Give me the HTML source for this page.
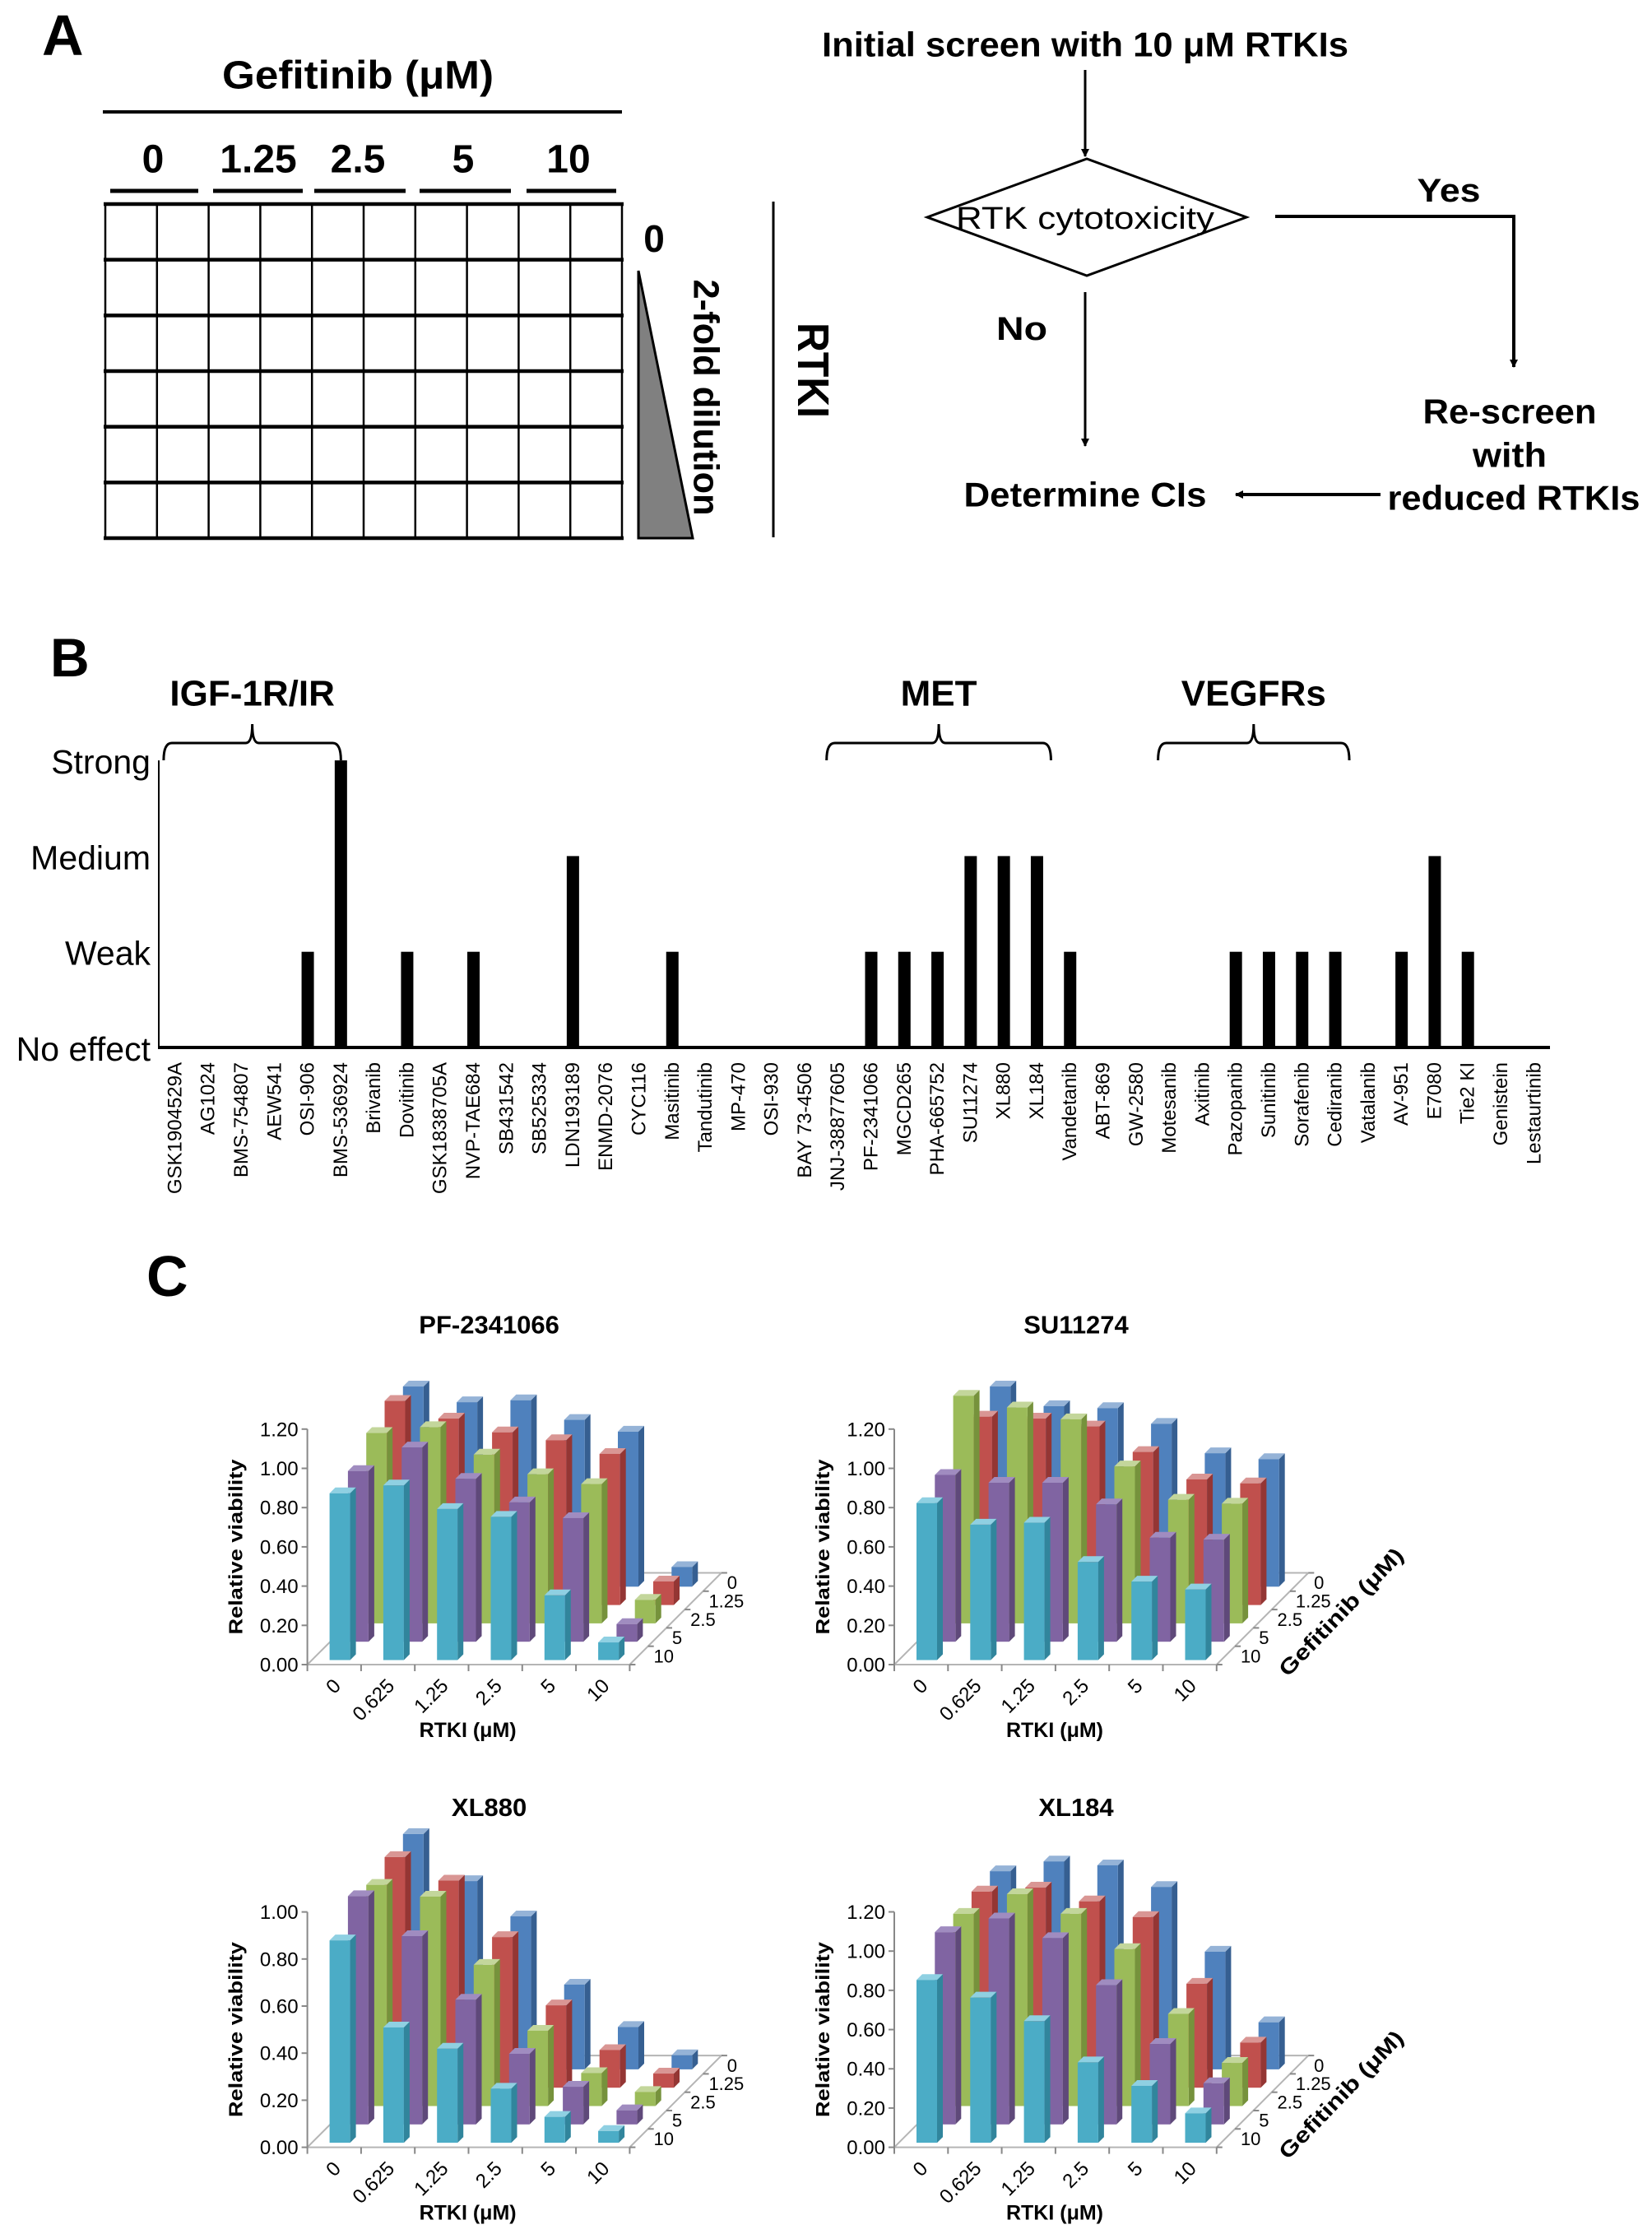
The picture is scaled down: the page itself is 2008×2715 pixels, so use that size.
<!DOCTYPE html>
<html><head><meta charset="utf-8"><title>RTKI screen figure</title>
<style>
html,body{margin:0;padding:0;background:#fff;}
svg{display:block;font-family:"Liberation Sans",Arial,sans-serif;}
</style></head>
<body>
<svg id="fig" width="2008" height="2715" viewBox="0 0 2008 2715" xmlns="http://www.w3.org/2000/svg">
<defs>
<marker id="ah" markerWidth="10" markerHeight="10" refX="9" refY="5" orient="auto" markerUnits="userSpaceOnUse" viewBox="0 0 10 10">
<path d="M0,0 L10,5 L0,10 Z" fill="#000"/>
</marker>
</defs>
<!-- Panel A -->
<g>
<text x="51" y="67" font-size="70" font-weight="bold">A</text>
<text x="435" y="92" font-size="48" font-weight="bold" text-anchor="middle" dominant-baseline="central" textLength="330" lengthAdjust="spacingAndGlyphs">Gefitinib (μM)</text>
<line x1="125" y1="136" x2="756" y2="136" stroke="#000" stroke-width="4"/>
<g font-size="48" font-weight="bold" text-anchor="middle" dominant-baseline="central">
<text x="186" y="194">0</text>
<text x="314" y="194">1.25</text>
<text x="435" y="194">2.5</text>
<text x="563" y="194">5</text>
<text x="691" y="194">10</text>
</g>
<g stroke="#000" stroke-width="5">
<line x1="134" y1="232" x2="241" y2="232"/><line x1="259" y1="232" x2="368" y2="232"/><line x1="382" y1="232" x2="493" y2="232"/><line x1="510" y1="232" x2="621" y2="232"/><line x1="640" y1="232" x2="749" y2="232"/>
</g>
<g id="plate"></g>
<text x="795" y="290" font-size="46" font-weight="bold" text-anchor="middle" dominant-baseline="central">0</text>
<polygon points="776,329 776,654 842,654" fill="#808080" stroke="#000" stroke-width="3"/>
<text transform="translate(858,483) rotate(90)" font-size="44" font-weight="bold" text-anchor="middle" dominant-baseline="central" textLength="287" lengthAdjust="spacingAndGlyphs">2-fold dilution</text>
<line x1="940" y1="245" x2="940" y2="653" stroke="#000" stroke-width="3"/>
<text transform="translate(988,450) rotate(90)" font-size="54" font-weight="bold" text-anchor="middle" dominant-baseline="central" textLength="116" lengthAdjust="spacingAndGlyphs">RTKI</text>
</g>
<!-- Flowchart -->
<g font-weight="bold">
<text x="1319" y="54" font-size="42" text-anchor="middle" dominant-baseline="central" textLength="640" lengthAdjust="spacingAndGlyphs">Initial screen with 10 μM RTKIs</text>
<line x1="1319" y1="85" x2="1319" y2="190" stroke="#000" stroke-width="3" marker-end="url(#ah)"/>
<polygon points="1127,264 1321,193 1515,264 1321,335" fill="none" stroke="#000" stroke-width="3"/>
<text x="1319" y="266" font-size="38" font-weight="normal" text-anchor="middle" dominant-baseline="central" textLength="314" lengthAdjust="spacingAndGlyphs">RTK cytotoxicity</text>
<polyline points="1550,263 1840,263 1840,446" fill="none" stroke="#000" stroke-width="4" marker-end="url(#ah)"/>
<text x="1761" y="232" font-size="40" text-anchor="middle" dominant-baseline="central" textLength="77" lengthAdjust="spacingAndGlyphs">Yes</text>
<line x1="1319" y1="355" x2="1319" y2="542" stroke="#000" stroke-width="3" marker-end="url(#ah)"/>
<text x="1242" y="400" font-size="40" text-anchor="middle" dominant-baseline="central" textLength="62" lengthAdjust="spacingAndGlyphs">No</text>
<text x="1319" y="601" font-size="42" text-anchor="middle" dominant-baseline="central" textLength="295" lengthAdjust="spacingAndGlyphs">Determine CIs</text>
<line x1="1678" y1="601" x2="1502" y2="601" stroke="#000" stroke-width="4" marker-end="url(#ah)"/>
<text x="1835" y="500" font-size="42" text-anchor="middle" dominant-baseline="central" textLength="211" lengthAdjust="spacingAndGlyphs">Re-screen</text>
<text x="1835" y="553" font-size="42" text-anchor="middle" dominant-baseline="central" textLength="90" lengthAdjust="spacingAndGlyphs">with</text>
<text x="1840" y="605" font-size="42" text-anchor="middle" dominant-baseline="central" textLength="307" lengthAdjust="spacingAndGlyphs">reduced RTKIs</text>
</g>
<!-- Panel B -->
<g id="panelB">
<text x="61" y="822" font-size="66" font-weight="bold">B</text>
</g>
<!-- Panel C -->
<g id="panelC">
<text x="178" y="1575" font-size="70" font-weight="bold">C</text>
</g>
</svg>
<script>
const NS = 'http://www.w3.org/2000/svg';
function mk(tag, attrs, parent) {
  const e = document.createElementNS(NS, tag);
  for (const k in attrs) e.setAttribute(k, attrs[k]);
  if (parent) parent.appendChild(e);
  return e;
}

// ---------- Panel A plate grid ----------
const plate = document.getElementById('plate');
const plateCols = 10, plateRows = 6;
for (let c = 0; c <= plateCols; c++) {
  const x = 128 + c * (756 - 128) / plateCols;
  const l = mk('line', {x1: x, y1: 248, x2: x, y2: 654, stroke: '#000', 'stroke-width': 2.5}, plate);
  
  
}
for (let r = 0; r <= plateRows; r++) {
  const y = 248 + r * (654 - 248) / plateRows;
  const l = mk('line', {x1: 126, y1: y, x2: 758, y2: y, stroke: '#000', 'stroke-width': 4.5}, plate);
  
  
}

// ---------- Panel B data ----------
const bCategories = ['GSK1904529A','AG1024','BMS-754807','AEW541','OSI-906','BMS-536924','Brivanib','Dovitinib','GSK1838705A','NVP-TAE684','SB431542','SB525334','LDN193189','ENMD-2076','CYC116','Masitinib','Tandutinib','MP-470','OSI-930','BAY 73-4506','JNJ-38877605','PF-2341066','MGCD265','PHA-665752','SU11274','XL880','XL184','Vandetanib','ABT-869','GW-2580','Motesanib','Axitinib','Pazopanib','Sunitinib','Sorafenib','Cediranib','Vatalanib','AV-951','E7080','Tie2 KI','Genistein','Lestaurtinib'];
const bEffect = [0,0,0,0,1,3,0,1,0,1,0,0,2,0,0,1,0,0,0,0,0,1,1,1,2,2,2,1,0,0,0,0,1,1,1,1,0,1,2,1,0,0];
const bLevelLabels = ['No effect','Weak','Medium','Strong'];
const bGroups = ['IGF-1R/IR','MET','VEGFRs'];
const bGroupFirst = [0, 20, 30];
const bGroupLast = [5, 26, 35];

(function drawB() {
  const g = document.getElementById('panelB');
  const x0 = 212.9, step = 40.29, base = 1273, lvl = 116.3;
  const xs = i => x0 + i * step;
  const ys = v => base - v * lvl;
  const ax = mk('line', {x1: 193, y1: ys(3), x2: 193, y2: base, stroke: '#000', 'stroke-width': 2}, g);
  
  
  const bx = mk('line', {x1: 192, y1: base, x2: 1884, y2: base, stroke: '#000', 'stroke-width': 4}, g);
  
  
  bLevelLabels.forEach((t, i) => {
    const e = mk('text', {x: 183, y: ys(i) + 2, 'font-size': 41, 'text-anchor': 'end', 'dominant-baseline': 'central'}, g);
    e.textContent = t;
    
    
  });
  bCategories.forEach((c, i) => {
    if (bEffect[i] > 0) {
      const r = mk('rect', {x: xs(i) - 7.5, y: ys(bEffect[i]), width: 15, height: base - ys(bEffect[i]), fill: '#000'}, g);
      
      
    }
    const t = mk('text', {transform: `translate(${xs(i)},1291) rotate(-90)`, 'font-size': 24, 'text-anchor': 'end', 'dominant-baseline': 'central'}, g);
    t.textContent = c;
    
    
  });
  bGroups.forEach((name, k) => {
    const x1 = xs(bGroupFirst[k]) - 14, x2 = xs(bGroupLast[k]) + (k === 0 ? 0 : 17);
    const tip = (x1 + x2) / 2;
    const y = 903;
    const d = `M${x1},924 Q${x1},${y} ${x1 + 10},${y} L${tip - 8},${y} Q${tip},${y} ${tip},880 Q${tip},${y} ${tip + 8},${y} L${x2 - 10},${y} Q${x2},${y} ${x2},924`;
    const p = mk('path', {d: d, fill: 'none', stroke: '#000', 'stroke-width': 3}, g);
    
    
    const t = mk('text', {x: tip, y: 843, 'font-size': 44, 'font-weight': 'bold', 'text-anchor': 'middle', 'dominant-baseline': 'central'}, g);
    t.textContent = name;
    
    
  });
})();

// ---------- Panel C data ----------
const rtkiTicks = ['0','0.625','1.25','2.5','5','10'];
const gefTicks = ['0','1.25','2.5','5','10'];
const yTicks12 = ['0.00','0.20','0.40','0.60','0.80','1.00','1.20'];
const yTicks10 = ['0.00','0.20','0.40','0.60','0.80','1.00'];
const seriesColors = ['#4f81bd','#c0504d','#9bbb59','#8064a2','#4bacc6'];
const sideColors = ['#365f91','#943634','#76923c','#5f497a','#31859c'];
const topColors = ['#95b3d7','#d99694','#c3d69b','#a08cc0','#8fd0e2'];

// PF-2341066 rows: gefitinib 0, 1.25, 2.5, 5, 10
const pfG0 = [1.02,0.94,0.95,0.85,0.79,0.10];
const pfG125 = [1.04,0.95,0.88,0.84,0.77,0.12];
const pfG25 = [0.97,1.00,0.86,0.76,0.71,0.12];
const pfG5 = [0.87,0.99,0.83,0.71,0.63,0.09];
const pfG10 = [0.85,0.89,0.77,0.73,0.33,0.09];
// SU11274
const suG0 = [1.02,0.92,0.91,0.83,0.68,0.65];
const suG125 = [0.96,0.95,0.91,0.78,0.64,0.62];
const suG25 = [1.16,1.10,1.04,0.80,0.63,0.61];
const suG5 = [0.85,0.81,0.81,0.70,0.53,0.52];
const suG10 = [0.80,0.69,0.70,0.50,0.40,0.36];
// XL880
const x8G0 = [1.00,0.80,0.65,0.36,0.18,0.06];
const x8G125 = [0.98,0.88,0.64,0.35,0.16,0.06];
const x8G25 = [0.94,0.89,0.60,0.32,0.14,0.06];
const x8G5 = [0.97,0.80,0.53,0.30,0.16,0.06];
const x8G10 = [0.86,0.49,0.40,0.23,0.11,0.05];
// XL184
const x1G0 = [1.01,1.06,1.04,0.93,0.60,0.24];
const x1G125 = [1.00,1.02,0.95,0.87,0.53,0.23];
const x1G25 = [0.98,1.08,0.98,0.80,0.47,0.22];
const x1G5 = [0.98,1.05,0.95,0.71,0.41,0.21];
const x1G10 = [0.83,0.74,0.62,0.41,0.29,0.15];

function chart3d(cfg) {
  const pc = document.getElementById('panelC');
  const g = mk('g', {}, pc);
  
  
  const W = 65.3, s = 22.3, o = 5.5, fw = 25, d = 7, D = 111.5;
  const ax = cfg.ax, zy = cfg.zy, unit = cfg.unit;
  const nCol = rtkiTicks.length;
  const right = ax + nCol * W;
  const tt = mk('text', {x: ax + 221, y: zy - 413, 'font-size': 31, 'font-weight': 'bold', 'text-anchor': 'middle', 'dominant-baseline': 'central'}, g);
  tt.textContent = cfg.title;
  
  
  const fl = mk('polygon', {points: `${ax},${zy} ${right},${zy} ${right + D},${zy - D} ${ax + D},${zy - D}`, fill: 'none', stroke: '#b5b5b5', 'stroke-width': 2}, g);
  
  
  const yl = mk('line', {x1: ax, y1: zy, x2: ax, y2: zy - cfg.yMax * unit, stroke: '#888', 'stroke-width': 2}, g);
  
  
  cfg.yTicks.forEach(t => {
    const y = zy - parseFloat(t) * unit;
    const tk = mk('line', {x1: ax - 7, y1: y, x2: ax, y2: y, stroke: '#888', 'stroke-width': 2}, g);
    
    
    const e = mk('text', {x: ax - 11, y: y + 1, 'font-size': 24, 'text-anchor': 'end', 'dominant-baseline': 'central'}, g);
    e.textContent = t;
    
    
  });
  const yt = mk('text', {transform: `translate(${ax - 87},${zy - 143}) rotate(-90)`, 'font-size': 23, 'font-weight': 'bold', 'text-anchor': 'middle', 'dominant-baseline': 'central', textLength: 213, lengthAdjust: 'spacingAndGlyphs'}, g);
  yt.textContent = 'Relative viability';
  
  
  for (let i = 0; i <= nCol; i++) {
    const tk = mk('line', {x1: ax + i * W, y1: zy, x2: ax + i * W, y2: zy + 8, stroke: '#888', 'stroke-width': 2}, g);
    
    
  }
  rtkiTicks.forEach((t, i) => {
    const cx = ax + (i + 0.5) * W + 4;
    const e = mk('text', {transform: `translate(${cx},${zy + 22}) rotate(-45)`, 'font-size': 24, 'text-anchor': 'end', 'dominant-baseline': 'central'}, g);
    e.textContent = t;
    
    
  });
  const xt = mk('text', {x: ax + 195, y: zy + 80, 'font-size': 25, 'font-weight': 'bold', 'text-anchor': 'middle', 'dominant-baseline': 'central'}, g);
  xt.textContent = 'RTKI (μM)';
  
  
  const nRow = gefTicks.length;
  for (let k = 0; k <= nRow; k++) {
    const px = right + D - k * s, py = zy - D + k * s;
    const tk = mk('line', {x1: px, y1: py, x2: px + 7, y2: py, stroke: '#888', 'stroke-width': 2}, g);
    
    
  }
  gefTicks.forEach((t, k) => {
    const e = mk('text', {x: right + D - (k + 0.5) * s + 18, y: zy - D + (k + 0.5) * s + 1, 'font-size': 22, 'dominant-baseline': 'central'}, g);
    e.textContent = t;
    
    
  });
  if (cfg.gefTitle) {
    const e = mk('text', {transform: `translate(${ax + 543},${zy - 64}) rotate(-46)`, 'font-size': 26, 'font-weight': 'bold', 'text-anchor': 'middle', 'dominant-baseline': 'central', textLength: 205, lengthAdjust: 'spacingAndGlyphs'}, g);
    e.textContent = 'Gefitinib (μM)';
    
    
  }
  for (let si = 0; si < cfg.series.length; si++) {
    const r = cfg.series.length - 1 - si;
    const vals = cfg.series[si];
    for (let i = 0; i < vals.length; i++) {
      const x0 = ax + i * W + 21.5 + o + r * s;
      const y0 = zy - o - r * s;
      const h = vals[i] * unit;
      const bg = mk('g', {}, g);
      
      
      mk('polygon', {points: `${x0 + fw},${y0} ${x0 + fw + d},${y0 - d} ${x0 + fw + d},${y0 - h - d} ${x0 + fw},${y0 - h}`, fill: sideColors[si]}, bg);
      mk('polygon', {points: `${x0},${y0 - h} ${x0 + d},${y0 - h - d} ${x0 + fw + d},${y0 - h - d} ${x0 + fw},${y0 - h}`, fill: topColors[si]}, bg);
      mk('rect', {x: x0, y: y0 - h, width: fw, height: h, fill: seriesColors[si]}, bg);
    }
  }
}

chart3d({name: 'chart-pf-2341066', title: 'PF-2341066', ax: 373.6, zy: 2023, unit: 238.5, yMax: 1.2, yTicks: yTicks12, gefTitle: false, series: [pfG0, pfG125, pfG25, pfG5, pfG10]});
chart3d({name: 'chart-su11274', title: 'SU11274', ax: 1087, zy: 2023, unit: 238.5, yMax: 1.2, yTicks: yTicks12, gefTitle: true, series: [suG0, suG125, suG25, suG5, suG10]});
chart3d({name: 'chart-xl880', title: 'XL880', ax: 373.6, zy: 2609.6, unit: 286, yMax: 1.0, yTicks: yTicks10, gefTitle: false, series: [x8G0, x8G125, x8G25, x8G5, x8G10]});
chart3d({name: 'chart-xl184', title: 'XL184', ax: 1087, zy: 2609.6, unit: 238.4, yMax: 1.2, yTicks: yTicks12, gefTitle: true, series: [x1G0, x1G125, x1G25, x1G5, x1G10]});
</script>
</body></html>
